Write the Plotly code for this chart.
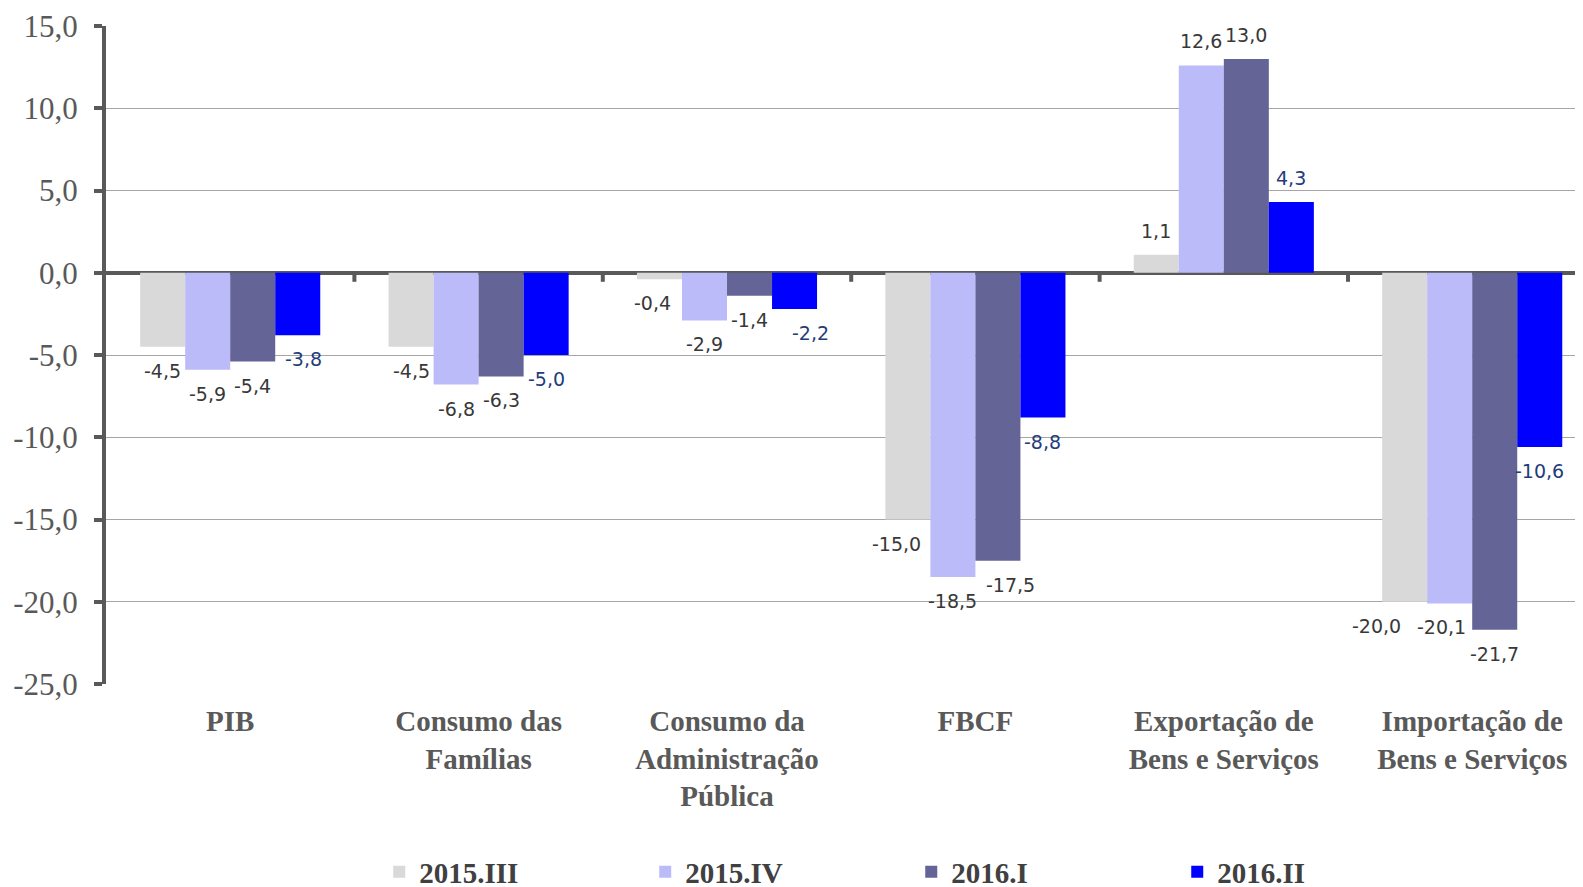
import plotly.graph_objects as go

categories = ["PIB", "Consumo das<br>Famílias", "Consumo da<br>Administração<br>Pública", "FBCF",
              "Exportação de<br>Bens e Serviços", "Importação de<br>Bens e Serviços"]
series_names = ["2015.III", "2015.IV", "2016.I", "2016.II"]
v_2015_III = [-4.5, -4.5, -0.4, -15.0, 1.1, -20.0]
v_2015_IV = [-5.9, -6.8, -2.9, -18.5, 12.6, -20.1]
v_2016_I = [-5.4, -6.3, -1.4, -17.5, 13.0, -21.7]
v_2016_II = [-3.8, -5.0, -2.2, -8.8, 4.3, -10.6]
y_ticks = [15, 10, 5, 0, -5, -10, -15, -20, -25]
y_tick_text = [f"{v:.1f}".replace(".", ",") for v in y_ticks]

values = [v_2015_III, v_2015_IV, v_2016_I, v_2016_II]
colors = ["#D9D9D9", "#BBBBFA", "#646496", "#0000FF"]
text_colors = ["#383838", "#383838", "#383838", "#1F3D7A"]

# manual label nudges (px) as in the original chart: (series index, category index) -> xshift
label_nudge = {(0, 5): -28, (1, 5): -8, (0, 3): -11, (2, 3): 13, (3, 2): 16, (3, 0): 6, (0, 2): -7}

AX = "#595959"
BARGAP = 0.275
n_series = len(series_names)
bar_w = (1 - BARGAP) / n_series

fig = go.Figure()
for name, vals, c in zip(series_names, values, colors):
    fig.add_trace(go.Bar(
        name=name, x=list(range(len(categories))), y=vals,
        marker=dict(color=c, line=dict(width=0)), hoverinfo="y",
    ))

annotations = []
for j, (vals, tc) in enumerate(zip(values, text_colors)):
    for i, v in enumerate(vals):
        annotations.append(dict(
            x=i + (j - (n_series - 1) / 2) * bar_w, y=v, xref="x", yref="y",
            text=f"{v:.1f}".replace(".", ","), showarrow=False,
            yshift=24 if v >= 0 else -24, xshift=label_nudge.get((j, i), 0),
            font=dict(family="DejaVu Sans", size=19, color=tc),
            xanchor="center", yanchor="middle",
        ))

shapes = []
for i in range(len(categories) - 1):
    shapes.append(dict(type="line", xref="x", yref="y", x0=i + 0.5, x1=i + 0.5, y0=0, y1=-0.55,
                       line=dict(color=AX, width=4), layer="above"))

fig.update_layout(
    width=1583, height=887,
    margin=dict(l=98, r=8, t=18, b=211, autoexpand=False),
    paper_bgcolor="white", plot_bgcolor="white",
    barmode="group", bargap=BARGAP, bargroupgap=0,
    showlegend=True,
    legend=dict(orientation="h", x=0.185, xanchor="left",
                yref="container", y=0.026, yanchor="middle",
                font=dict(family="Liberation Serif, Times New Roman", size=29, color="#404040", weight="bold"),
                entrywidth=221, entrywidthmode="pixels",
                traceorder="normal"),
    shapes=shapes,
    annotations=annotations,
    xaxis=dict(showline=False, ticks="", showgrid=False, automargin=False,
               range=[-0.5, len(categories) - 0.554],
               tickvals=list(range(len(categories))), ticktext=categories,
               tickfont=dict(family="Liberation Serif, Times New Roman", size=29, color=AX, weight="bold"),
               ticklabelstandoff=17),
    yaxis=dict(range=[-25, 15], tickvals=y_ticks, ticktext=y_tick_text, automargin=False,
               showline=True, linecolor=AX, linewidth=4,
               ticks="outside", ticklen=8, tickwidth=4, tickcolor=AX,
               showgrid=True, gridcolor="#A6A6A6", gridwidth=1,
               zeroline=True, zerolinecolor=AX, zerolinewidth=4,
               tickfont=dict(family="Liberation Serif, Times New Roman", size=31, color=AX),
               ticklabelstandoff=10),
)

fig.write_html("out.html")
